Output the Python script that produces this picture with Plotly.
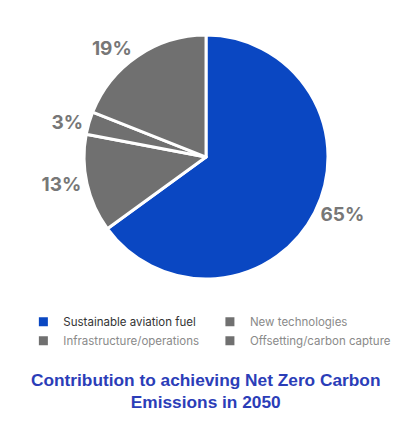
import plotly.graph_objects as go

labels = ["Sustainable aviation fuel", "New technologies",
          "Infrastructure/operations", "Offsetting/carbon capture"]
values = [65, 13, 3, 19]
pct_text = ["65%", "13%", "3%", "19%"]
colors = ["#0a47c2", "#707070", "#707070", "#707070"]
legend_colors = ["#333333", "#8a8a8a", "#8a8a8a", "#8a8a8a"]

legend_labels = [f"<span style='color:{c}'>{l}</span>" for l, c in zip(labels, legend_colors)]

fig = go.Figure(go.Pie(
    labels=legend_labels,
    values=values,
    text=pct_text,
    textinfo="text",
    textposition="outside",
    textfont=dict(family="Inter, Arial", size=19, color="#777777", weight="bold"),
    marker=dict(colors=colors, line=dict(color="white", width=3)),
    sort=False,
    direction="clockwise",
    rotation=0,
    domain=dict(x=[0.205, 0.800], y=[0.337, 0.917]),
    hoverinfo="skip",
))

fig.update_layout(
    width=410, height=421,
    margin=dict(l=0, r=0, t=0, b=0),
    paper_bgcolor="white",
    plot_bgcolor="white",
    showlegend=True,
    legend=dict(
        orientation="h",
        x=0.057, y=0.27, xanchor="left", yanchor="top",
        entrywidth=0.455, entrywidthmode="fraction",
        font=dict(family="Inter, Arial", size=11.5, color="#333333"),
        tracegroupgap=0,
        itemclick=False,
    ),
    annotations=[dict(
        text="Contribution to achieving Net Zero Carbon<br>Emissions in 2050",
        x=0.5, y=(421 - 391) / 421, yanchor="middle",
        xref="paper", yref="paper", showarrow=False,
        font=dict(family="Liberation Sans, Arial", size=17.3, color="#2b3db8", weight="bold"),
        align="center",
    )],
)

fig.write_html("out.html")
